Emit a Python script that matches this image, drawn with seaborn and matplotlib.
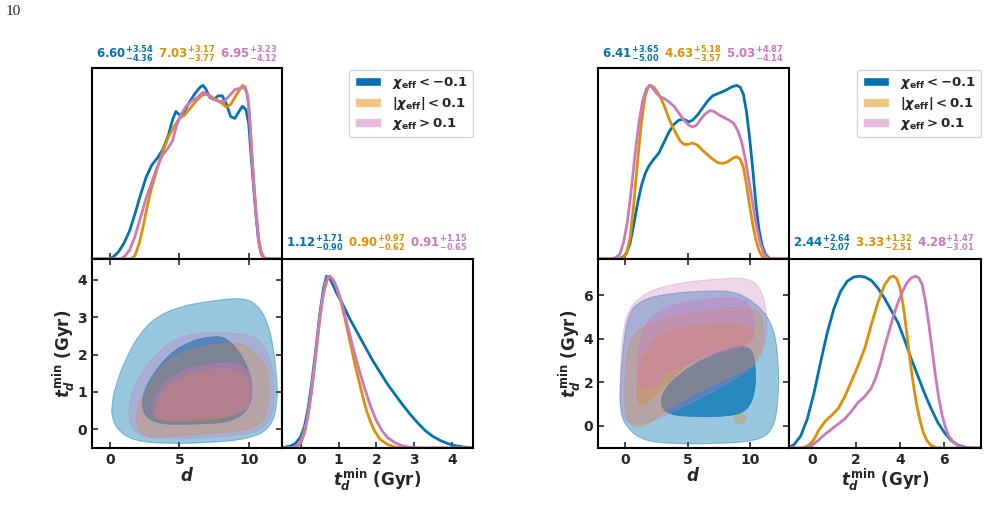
import matplotlib
matplotlib.use("Agg")
import matplotlib.pyplot as plt
from matplotlib.patches import Patch, PathPatch
from matplotlib.path import Path
import seaborn as sns

# ---------------- data ----------------
group_labels = [r"$\chi_{\rm eff} < -0.1$", r"$|\chi_{\rm eff}| < 0.1$", r"$\chi_{\rm eff} > 0.1$"]

# left corner: 1D density of d (peak-normalised)
left_d_neg_x = [-1.3, -0.2, 0.2, 0.6, 1.0, 1.4, 1.8, 2.2, 2.6, 3.0, 3.4, 3.8, 4.2, 4.5, 4.75, 5.0, 5.3, 5.7, 6.1, 6.5, 6.7, 6.9, 7.2, 7.5, 7.8, 8.1, 8.4, 8.7, 9.0, 9.3, 9.55, 9.8, 10.0, 10.15, 10.3, 10.5, 10.7, 10.9, 11.1, 11.3, 12.4]
left_d_neg_y = [0, 0, 0.01, 0.04, 0.09, 0.16, 0.26, 0.37, 0.47, 0.54, 0.58, 0.63, 0.71, 0.80, 0.85, 0.83, 0.84, 0.90, 0.95, 0.99, 1.0, 0.98, 0.93, 0.92, 0.94, 0.94, 0.89, 0.82, 0.81, 0.85, 0.88, 0.86, 0.78, 0.62, 0.47, 0.27, 0.11, 0.03, 0.005, 0, 0]
left_d_mid_x = [-1.3, 1.5, 1.8, 2.1, 2.4, 2.7, 3.0, 3.4, 3.8, 4.2, 4.6, 5.0, 5.4, 5.8, 6.2, 6.6, 6.9, 7.2, 7.6, 8.0, 8.4, 8.7, 9.0, 9.3, 9.55, 9.75, 9.95, 10.1, 10.3, 10.5, 10.7, 10.9, 11.1, 11.3, 12.4]
left_d_mid_y = [0, 0, 0.02, 0.09, 0.19, 0.31, 0.41, 0.52, 0.62, 0.70, 0.76, 0.81, 0.83, 0.87, 0.91, 0.94, 0.95, 0.94, 0.92, 0.90, 0.875, 0.89, 0.93, 0.97, 1.0, 0.99, 0.93, 0.78, 0.52, 0.30, 0.13, 0.04, 0.01, 0, 0]
left_d_pos_x = [-1.3, 0.8, 1.1, 1.4, 1.8, 2.2, 2.6, 3.0, 3.4, 3.8, 4.2, 4.5, 4.8, 5.1, 5.5, 5.9, 6.3, 6.7, 7.0, 7.4, 7.8, 8.2, 8.6, 9.0, 9.4, 9.65, 9.85, 10.0, 10.15, 10.35, 10.55, 10.75, 10.95, 11.2, 12.4]
left_d_pos_y = [0, 0, 0.02, 0.05, 0.13, 0.24, 0.35, 0.44, 0.53, 0.60, 0.64, 0.68, 0.77, 0.83, 0.88, 0.91, 0.93, 0.96, 0.95, 0.92, 0.91, 0.905, 0.94, 0.975, 0.985, 0.99, 0.96, 0.88, 0.70, 0.45, 0.24, 0.08, 0.02, 0, 0]

# left corner: 1D density of t_d^min
left_t_neg_x = [-0.5, -0.3, -0.15, 0.0, 0.1, 0.2, 0.3, 0.4, 0.5, 0.6, 0.68, 0.76, 0.85, 0.95, 1.1, 1.3, 1.5, 1.7, 1.9, 2.1, 2.3, 2.5, 2.7, 2.9, 3.1, 3.3, 3.5, 3.7, 3.9, 4.1, 4.3, 4.56]
left_t_neg_y = [0.002, 0.01, 0.025, 0.066, 0.13, 0.24, 0.40, 0.58, 0.78, 0.93, 1.0, 0.99, 0.95, 0.90, 0.84, 0.75, 0.67, 0.59, 0.51, 0.44, 0.37, 0.31, 0.25, 0.195, 0.145, 0.10, 0.067, 0.043, 0.025, 0.013, 0.006, 0.002]
left_t_mid_x = [-0.5, -0.15, 0.0, 0.1, 0.2, 0.3, 0.4, 0.5, 0.6, 0.7, 0.77, 0.85, 0.95, 1.05, 1.15, 1.25, 1.35, 1.45, 1.55, 1.65, 1.75, 1.85, 1.95, 2.1, 2.3, 2.5, 2.7, 4.56]
left_t_mid_y = [0, 0, 0.03, 0.09, 0.20, 0.36, 0.55, 0.75, 0.90, 0.98, 1.0, 0.98, 0.93, 0.86, 0.77, 0.67, 0.57, 0.47, 0.38, 0.29, 0.21, 0.15, 0.10, 0.05, 0.02, 0.005, 0, 0]
left_t_pos_x = [-0.5, -0.2, -0.05, 0.05, 0.15, 0.25, 0.35, 0.45, 0.55, 0.65, 0.73, 0.82, 0.92, 1.02, 1.12, 1.25, 1.4, 1.55, 1.7, 1.85, 2.0, 2.15, 2.3, 2.5, 2.7, 2.9, 3.1, 4.56]
left_t_pos_y = [0, 0, 0.02, 0.07, 0.15, 0.28, 0.46, 0.66, 0.84, 0.96, 1.0, 0.99, 0.95, 0.89, 0.81, 0.70, 0.57, 0.45, 0.34, 0.24, 0.16, 0.10, 0.06, 0.03, 0.012, 0.004, 0, 0]

# left corner: 2D credible regions (d, t_d^min), 90% and 50%
left_neg_90 = [(0.12, 0.62), (0.36, 1.15), (1.2, 1.95), (2.16, 2.58), (3.37, 3.02), (5.05, 3.29), (6.97, 3.42), (9.37, 3.53), (10.58, 3.38), (11.54, 2.76), (12.06, 1.42), (12.06, 0.62), (11.54, 0.0), (9.86, -0.27), (6.97, -0.36), (4.09, -0.39), (1.68, -0.31), (0.48, 0.0), (0.12, 0.36)]
left_neg_50 = [(2.28, 0.89), (3.12, 1.51), (4.33, 2.04), (5.77, 2.36), (7.21, 2.49), (8.41, 2.47), (9.61, 1.95), (10.33, 1.24), (10.09, 0.53), (8.65, 0.18), (5.77, 0.13), (3.6, 0.13), (2.4, 0.36)]
left_mid_90 = [(1.87, 0.44), (2.28, 0.89), (3.6, 1.69), (5.29, 2.09), (7.45, 2.27), (9.37, 2.35), (10.81, 1.95), (11.42, 1.51), (11.49, 0.62), (10.81, 0.04), (8.41, -0.09), (5.05, -0.16), (2.88, -0.23), (1.97, -0.04)]
left_mid_50 = [(3.24, 0.62), (4.09, 1.15), (5.77, 1.51), (7.93, 1.64), (9.61, 1.55), (10.21, 1.07), (9.85, 0.58), (8.65, 0.31), (5.77, 0.22), (3.84, 0.2), (3.24, 0.36)]
left_pos_90 = [(1.32, 0.62), (1.92, 1.33), (3.12, 1.95), (4.57, 2.4), (6.25, 2.58), (8.65, 2.58), (10.58, 2.51), (11.54, 1.95), (11.9, 1.24), (11.77, 0.44), (11.05, -0.04), (8.89, -0.18), (5.05, -0.25), (2.4, -0.23), (1.44, 0.09)]
left_pos_50 = [(3.0, 0.62), (3.6, 1.15), (5.05, 1.56), (6.97, 1.73), (8.89, 1.82), (9.97, 1.6), (10.33, 1.07), (10.09, 0.58), (8.89, 0.36), (5.77, 0.27), (3.84, 0.22), (3.12, 0.36)]

# right corner: 1D density of d
right_d_neg_x = [-2.16, -0.6, -0.2, 0.1, 0.4, 0.7, 1.0, 1.3, 1.6, 1.9, 2.3, 2.7, 3.1, 3.5, 3.9, 4.3, 4.7, 5.1, 5.4, 5.8, 6.2, 6.6, 7.0, 7.5, 8.0, 8.5, 8.9, 9.2, 9.45, 9.7, 9.95, 10.2, 10.45, 10.7, 10.95, 11.2, 11.5, 11.8, 13.1]
right_d_neg_y = [0, 0, 0.01, 0.03, 0.09, 0.20, 0.32, 0.42, 0.49, 0.535, 0.575, 0.61, 0.67, 0.73, 0.775, 0.80, 0.805, 0.79, 0.80, 0.83, 0.87, 0.91, 0.94, 0.955, 0.97, 0.99, 1.0, 0.99, 0.95, 0.85, 0.70, 0.52, 0.32, 0.17, 0.08, 0.03, 0.005, 0, 0]
right_d_mid_x = [-2.16, -0.6, -0.2, 0.1, 0.4, 0.7, 1.0, 1.3, 1.6, 1.85, 2.05, 2.3, 2.6, 2.9, 3.2, 3.5, 3.8, 4.1, 4.4, 4.7, 5.0, 5.4, 5.8, 6.2, 6.6, 7.0, 7.4, 7.8, 8.2, 8.6, 8.9, 9.2, 9.45, 9.7, 9.95, 10.2, 10.45, 10.7, 10.95, 11.2, 11.5, 13.1]
right_d_mid_y = [0, 0, 0.005, 0.03, 0.12, 0.32, 0.56, 0.78, 0.935, 0.99, 1.0, 0.99, 0.96, 0.92, 0.87, 0.81, 0.76, 0.72, 0.68, 0.66, 0.66, 0.668, 0.655, 0.625, 0.60, 0.575, 0.555, 0.55, 0.56, 0.58, 0.59, 0.575, 0.53, 0.43, 0.31, 0.20, 0.11, 0.05, 0.015, 0.003, 0, 0]
right_d_pos_x = [-2.16, -1.1, -0.7, -0.4, -0.1, 0.2, 0.5, 0.8, 1.1, 1.4, 1.7, 1.95, 2.2, 2.5, 2.8, 3.1, 3.5, 3.9, 4.3, 4.7, 5.1, 5.4, 5.7, 6.0, 6.4, 6.8, 7.1, 7.5, 7.9, 8.3, 8.7, 9.0, 9.3, 9.6, 9.9, 10.2, 10.5, 10.8, 11.1, 11.4, 11.7, 13.1]
right_d_pos_y = [0, 0, 0.01, 0.03, 0.10, 0.22, 0.40, 0.60, 0.78, 0.91, 0.98, 1.0, 0.985, 0.955, 0.935, 0.925, 0.905, 0.88, 0.84, 0.80, 0.77, 0.76, 0.77, 0.80, 0.835, 0.855, 0.85, 0.83, 0.815, 0.80, 0.78, 0.74, 0.68, 0.58, 0.45, 0.32, 0.19, 0.09, 0.03, 0.005, 0, 0]

# right corner: 1D density of t_d^min
right_t_neg_x = [-1.03, -0.8, -0.5, -0.2, 0.1, 0.4, 0.7, 1.0, 1.3, 1.6, 1.9, 2.15, 2.4, 2.7, 3.0, 3.3, 3.6, 3.9, 4.2, 4.5, 4.8, 5.1, 5.4, 5.7, 6.0, 6.3, 6.6, 6.9, 7.2, 7.66]
right_t_neg_y = [0.004, 0.02, 0.07, 0.17, 0.32, 0.50, 0.67, 0.81, 0.91, 0.97, 0.995, 1.0, 0.995, 0.975, 0.93, 0.87, 0.80, 0.73, 0.63, 0.52, 0.42, 0.32, 0.23, 0.15, 0.09, 0.045, 0.018, 0.006, 0, 0]
right_t_mid_x = [-1.03, -0.4, -0.1, 0.1, 0.3, 0.6, 0.9, 1.2, 1.5, 1.8, 2.1, 2.4, 2.7, 3.0, 3.3, 3.55, 3.7, 3.85, 4.0, 4.15, 4.3, 4.45, 4.6, 4.75, 4.9, 5.05, 5.2, 5.4, 5.6, 5.9, 7.66]
right_t_mid_y = [0, 0, 0.02, 0.05, 0.10, 0.155, 0.19, 0.23, 0.30, 0.39, 0.48, 0.58, 0.72, 0.85, 0.95, 0.995, 1.0, 0.985, 0.93, 0.82, 0.67, 0.51, 0.37, 0.25, 0.16, 0.09, 0.045, 0.015, 0.003, 0, 0]
right_t_pos_x = [-1.03, -0.3, 0.0, 0.3, 0.6, 0.9, 1.2, 1.5, 1.8, 2.1, 2.4, 2.7, 2.9, 3.1, 3.3, 3.5, 3.7, 3.9, 4.1, 4.3, 4.5, 4.7, 4.85, 5.0, 5.15, 5.3, 5.45, 5.6, 5.75, 5.9, 6.05, 6.2, 6.4, 6.6, 6.8, 7.0, 7.66]
right_t_pos_y = [0, 0, 0.015, 0.045, 0.08, 0.11, 0.14, 0.17, 0.215, 0.265, 0.30, 0.35, 0.41, 0.49, 0.59, 0.68, 0.77, 0.845, 0.91, 0.96, 0.99, 1.0, 0.99, 0.95, 0.85, 0.72, 0.57, 0.42, 0.29, 0.19, 0.12, 0.07, 0.035, 0.015, 0.005, 0, 0]

# right corner: 2D credible regions
right_neg_90 = [(-0.4, 1.64), (-0.27, 2.87), (0.13, 5.01), (1.2, 5.78), (3.6, 6.09), (6.8, 6.21), (8.93, 6.16), (10.8, 5.47), (11.87, 4.55), (12.27, 3.02), (12.27, 1.18), (11.87, -0.2), (10.53, -0.73), (6.8, -0.84), (3.6, -0.84), (1.2, -0.66), (-0.13, 0.11), (-0.4, 0.87)]
right_neg_50 = [(2.8, 0.87), (3.07, 1.64), (4.4, 2.41), (6.53, 3.17), (8.67, 3.63), (10.13, 3.63), (10.45, 2.71), (10.4, 1.49), (9.73, 0.64), (8.13, 0.41), (5.47, 0.41), (3.6, 0.49)]
right_mid_90 = [(0.0, 1.95), (0.13, 3.48), (0.93, 4.4), (2.8, 4.86), (5.47, 5.17), (8.13, 5.4), (10.0, 5.44), (10.93, 5.09), (11.12, 4.09), (10.67, 3.02), (9.2, 2.41), (6.0, 1.64), (3.33, 0.72), (1.47, -0.08), (0.4, -0.04), (0.0, 0.72)]
right_mid_90_island = [(9.68, 0.31), (9.54, 0.47), (9.2, 0.54), (8.86, 0.47), (8.72, 0.31), (8.86, 0.15), (9.2, 0.08), (9.54, 0.15)]
right_mid_50 = [(0.93, 1.03), (1.07, 2.71), (1.6, 3.48), (2.8, 4.25), (5.47, 4.63), (8.13, 4.71), (9.87, 4.63), (10.4, 4.09), (9.73, 3.71), (8.13, 3.63), (6.53, 3.33), (4.67, 2.71), (3.07, 1.79), (2.0, 1.18), (1.4, 0.87)]
right_pos_90 = [(-0.4, 2.1), (-0.27, 3.79), (0.13, 5.32), (1.73, 6.16), (4.13, 6.55), (7.07, 6.73), (9.73, 6.82), (10.8, 6.39), (11.33, 5.32), (11.33, 4.09), (10.8, 3.02), (9.2, 2.25), (6.27, 1.33), (3.6, 0.57), (1.47, 0.03), (0.13, 0.11), (-0.4, 0.87)]
right_pos_50 = [(0.93, 2.25), (1.07, 3.79), (1.73, 4.86), (3.6, 5.55), (6.8, 5.86), (9.2, 5.9), (10.13, 5.47), (10.4, 4.25), (9.73, 3.63), (8.13, 3.48), (6.0, 3.02), (3.6, 2.56), (2.73, 1.95), (1.87, 1.64), (1.2, 1.78)]

# medians with upper / lower errors
left_d_med, left_d_up, left_d_lo = [6.60, 7.03, 6.95], [3.54, 3.17, 3.23], [4.36, 3.77, 4.12]
left_t_med, left_t_up, left_t_lo = [1.12, 0.90, 0.91], [1.71, 0.97, 1.15], [0.90, 0.62, 0.65]
right_d_med, right_d_up, right_d_lo = [6.41, 4.63, 5.03], [3.65, 5.18, 4.87], [5.00, 3.57, 4.14]
right_t_med, right_t_up, right_t_lo = [2.44, 3.33, 4.28], [2.64, 1.32, 1.47], [2.07, 2.51, 3.01]

# ---------------- style ----------------
sns.set_style("ticks")
plt.rcParams.update({
    "font.family": ["DejaVu Sans"],
    "font.weight": "bold",
    "axes.labelweight": "bold",
    "axes.edgecolor": "black",
    "mathtext.fontset": "custom",
    "mathtext.rm": "DejaVu Sans:bold",
    "mathtext.it": "DejaVu Sans:bold:italic",
    "mathtext.bf": "DejaVu Sans:bold",
    "mathtext.sf": "DejaVu Sans:bold",
})
pal = sns.color_palette("colorblind")
colors = [pal[0], pal[1], pal[4]]
outer_alpha = [0.4, 0.3, 0.3]
inner_alpha = [0.75, 0.4, 0.4]

W, H = 988, 513
fig = plt.figure(figsize=(W / 100, H / 100), dpi=100)


def add_ax(l, t, r, b):
    return fig.add_axes([l / W, 1 - b / H, (r - l) / W, (b - t) / H])


def smooth_region(ax, poly, color, alpha, lw):
    # closed quadratic-Bezier outline through the read-off vertices
    n = len(poly)
    mids = [((poly[i][0] + poly[(i + 1) % n][0]) / 2, (poly[i][1] + poly[(i + 1) % n][1]) / 2)
            for i in range(n)]
    verts, codes = [mids[-1]], [Path.MOVETO]
    for i in range(n):
        verts += [poly[i], mids[i]]
        codes += [Path.CURVE3, Path.CURVE3]
    verts.append(mids[-1])
    codes.append(Path.CLOSEPOLY)
    ax.add_patch(PathPatch(Path(verts, codes), facecolor=color, alpha=alpha,
                           edgecolor=color, lw=lw))


def stat_text(x, y, m, u, l, c):
    fig.text(x / W, 1 - y / H, f"${m:.2f}^{{+{u:.2f}}}_{{-{l:.2f}}}$",
             color=c, fontsize=8.5, ha="left", va="baseline")


def style_ax(ax):
    for s in ax.spines.values():
        s.set_linewidth(1.5)
        s.set_color("black")


def draw_corner(x0, x1, x2, d_lim, t_lim, d_curves, t_curves, regions, d_stats, t_stats, d_ticks, t_ticks):
    top, mid, bot = 68, 259, 448
    ax_d = add_ax(x0, top, x1, mid)
    ax_2d = add_ax(x0, mid, x1, bot)
    ax_t = add_ax(x1, mid, x2, bot)

    for (xs, ys), c in zip(d_curves, colors):
        sns.lineplot(x=xs, y=ys, ax=ax_d, color=c, lw=2)
    for (xs, ys), c in zip(t_curves, colors):
        sns.lineplot(x=xs, y=ys, ax=ax_t, color=c, lw=2)

    for k, (outer, inner) in enumerate(regions):
        for poly in outer:
            smooth_region(ax_2d, poly, colors[k], outer_alpha[k], 0.8)
        for poly in inner:
            smooth_region(ax_2d, poly, colors[k], inner_alpha[k], 0.5)

    ax_d.set_xlim(d_lim)
    ax_d.set_ylim(0, 1.1)
    ax_d.set_xticks(d_ticks)
    ax_d.set_yticks([])
    ax_d.tick_params(axis="x", direction="in", length=4, width=1.2, labelbottom=False)
    ax_d.set_xlabel("")
    ax_d.set_ylabel("")

    ax_2d.set_xlim(d_lim)
    ax_2d.set_ylim(t_lim)
    ax_2d.set_xticks(d_ticks)
    ax_2d.set_yticks(t_ticks)
    ax_2d.tick_params(direction="in", length=4, width=1.2, top=True, right=True, labelsize=10)
    ax_2d.set_xlabel(r"$d$", fontsize=12, labelpad=0)
    ax_2d.set_ylabel(r"$t_d^{\rm min}$ (Gyr)", fontsize=12, labelpad=0)

    ax_t.set_xlim(t_lim)
    ax_t.set_ylim(0, 1.1)
    ax_t.set_xticks(t_ticks)
    ax_t.set_yticks([])
    ax_t.tick_params(axis="x", direction="in", length=4, width=1.2, labelsize=10)
    ax_t.set_xlabel(r"$t_d^{\rm min}$ (Gyr)", fontsize=12, labelpad=0)
    ax_t.set_ylabel("")

    for a in (ax_d, ax_2d, ax_t):
        style_ax(a)

    for i, c in enumerate(colors):
        stat_text(x0 + 4 + 62 * i, 59, d_stats[0][i], d_stats[1][i], d_stats[2][i], c)
        stat_text(x1 + 4 + 62 * i, 248, t_stats[0][i], t_stats[1][i], t_stats[2][i], c)

    handles = [Patch(facecolor=colors[0], alpha=1.0),
               Patch(facecolor=colors[1], alpha=0.5),
               Patch(facecolor=colors[2], alpha=0.5)]
    fig.legend(handles, group_labels, loc="upper right", bbox_to_anchor=(x2 / W, 1 - 70 / H),
               fontsize=9.5, borderaxespad=0, frameon=True, labelspacing=0.3,
               borderpad=0.4, handlelength=2.0)


draw_corner(
    92, 282, 473, (-1.3, 12.4), (-0.5, 4.56),
    [(left_d_neg_x, left_d_neg_y), (left_d_mid_x, left_d_mid_y), (left_d_pos_x, left_d_pos_y)],
    [(left_t_neg_x, left_t_neg_y), (left_t_mid_x, left_t_mid_y), (left_t_pos_x, left_t_pos_y)],
    [([left_neg_90], [left_neg_50]), ([left_mid_90], [left_mid_50]), ([left_pos_90], [left_pos_50])],
    (left_d_med, left_d_up, left_d_lo), (left_t_med, left_t_up, left_t_lo),
    [0, 5, 10], [0, 1, 2, 3, 4],
)

draw_corner(
    598, 789, 981, (-2.16, 13.1), (-1.03, 7.66),
    [(right_d_neg_x, right_d_neg_y), (right_d_mid_x, right_d_mid_y), (right_d_pos_x, right_d_pos_y)],
    [(right_t_neg_x, right_t_neg_y), (right_t_mid_x, right_t_mid_y), (right_t_pos_x, right_t_pos_y)],
    [([right_neg_90], [right_neg_50]), ([right_mid_90, right_mid_90_island], [right_mid_50]),
     ([right_pos_90], [right_pos_50])],
    (right_d_med, right_d_up, right_d_lo), (right_t_med, right_t_up, right_t_lo),
    [0, 5, 10], [0, 2, 4, 6],
)

fig.text(6 / W, 1 - 5 / H, "10", family="Liberation Serif", fontsize=11, weight="normal",
         ha="left", va="top")

fig.savefig("out.png", dpi=100)
